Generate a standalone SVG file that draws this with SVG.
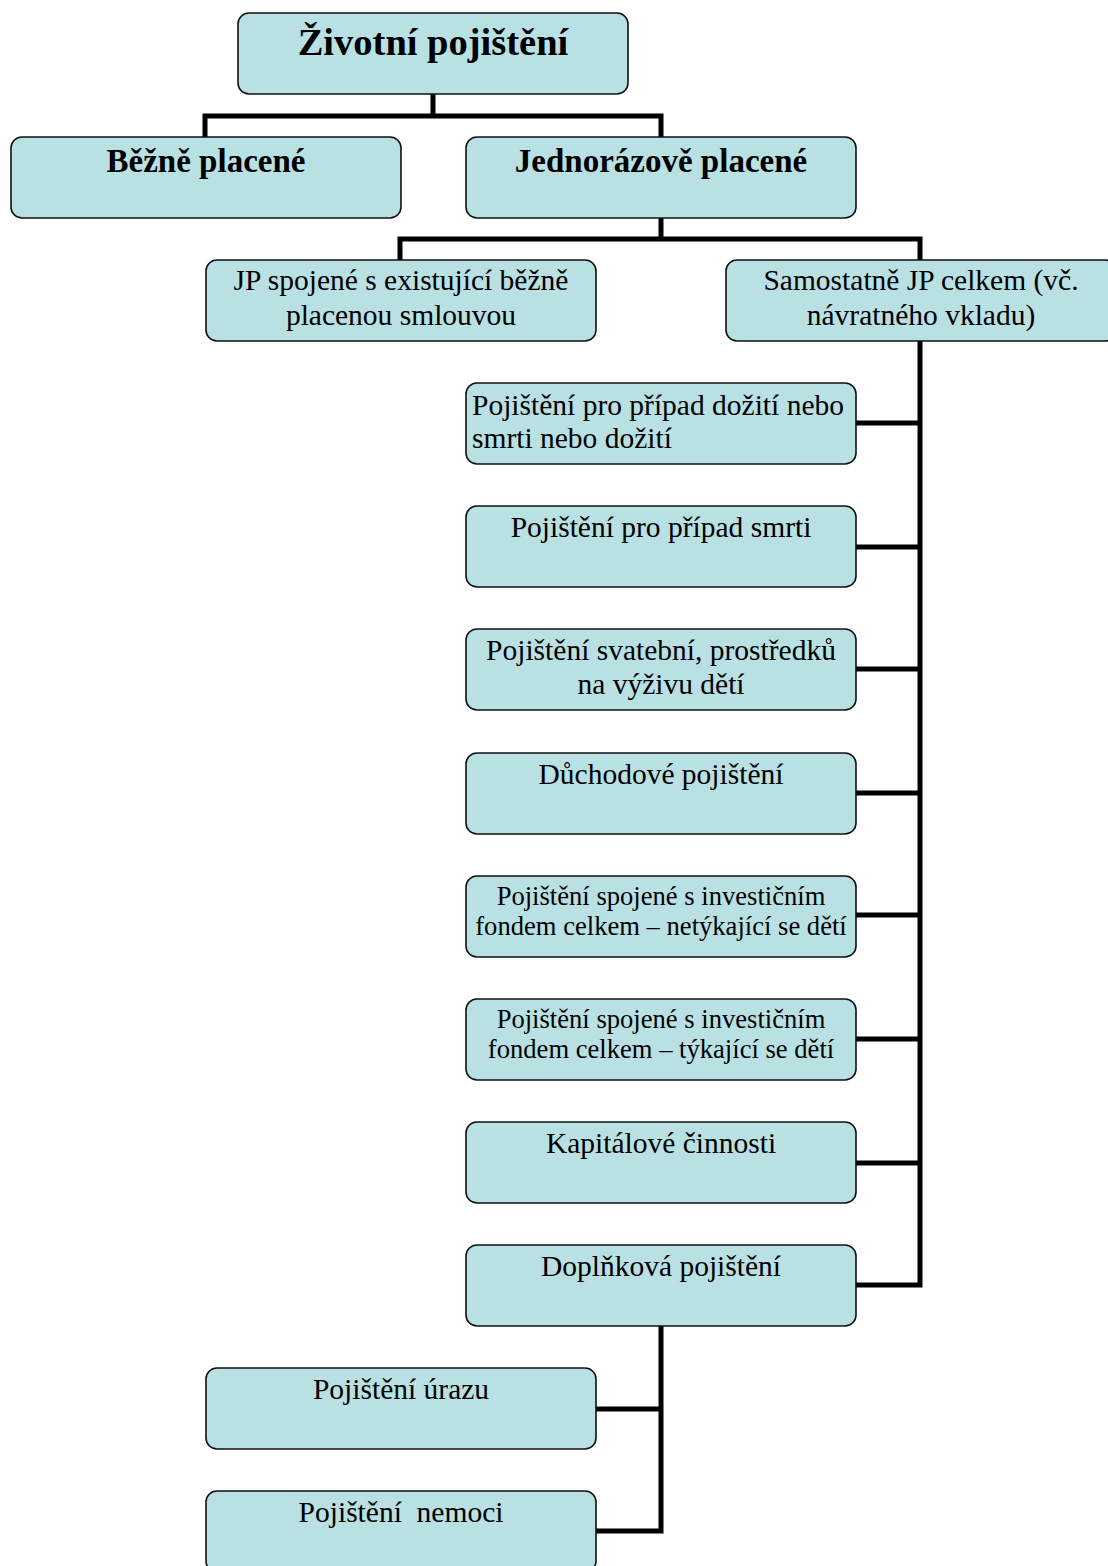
<svg xmlns="http://www.w3.org/2000/svg" width="1108" height="1566" viewBox="0 0 1108 1566">
<style>
.box{fill:#b9e0e3;stroke:#111;stroke-width:1.6}
.t{font-family:'Liberation Serif','Times New Roman','DejaVu Serif',serif;fill:#000;font-size:29.5px}
.b{font-weight:bold}
.c{text-anchor:middle}
.h1{font-size:38.5px}
.h2{font-size:33px}
.s{font-size:26.6px}
.con{fill:none;stroke:#000;stroke-width:5;stroke-linejoin:miter;stroke-linecap:square}
</style>
<g id="connectors">
<path class="con" d="M433,94 V116 M205,137 V116 H661 V137"/>
<path class="con" d="M661,218 V239 M400,260 V239 H920 V260"/>
<path class="con" d="M920,341 V1285 H856 M856,423 H920 M856,547 H920 M856,669 H920 M856,793 H920 M856,915 H920 M856,1039 H920 M856,1163 H920"/>
<path class="con" d="M661,1326 V1531 H596 M596,1409 H661"/>
</g>
<g id="n-root"><rect class="box" x="238" y="13" width="390" height="81" rx="11"/><text class="t b c h1" x="433" y="55">Životní pojištění</text></g>
<g id="n-bezne"><rect class="box" x="11" y="137" width="390" height="81" rx="11"/><text class="t b c h2" x="206" y="172">Běžně placené</text></g>
<g id="n-jednorazove"><rect class="box" x="466" y="137" width="390" height="81" rx="11"/><text class="t b c h2" x="661" y="172">Jednorázově placené</text></g>
<g id="n-jp-spojene"><rect class="box" x="206" y="260" width="390" height="81" rx="11"/><text class="t c" x="401" y="290">JP spojené s existující běžně</text><text class="t c" x="401" y="325">placenou smlouvou</text></g>
<g id="n-samostatne"><rect class="box" x="726" y="260" width="390" height="81" rx="11"/><text class="t c" x="921" y="290">Samostatně JP celkem (vč.</text><text class="t c" x="921" y="325">návratného vkladu)</text></g>
<g id="n-doziti"><rect class="box" x="466" y="383" width="390" height="81" rx="11"/><text class="t" x="472" y="415">Pojištění pro případ dožití nebo</text><text class="t" x="472" y="448">smrti nebo dožití</text></g>
<g id="n-smrti"><rect class="box" x="466" y="506" width="390" height="81" rx="11"/><text class="t c" x="661" y="537">Pojištění pro případ smrti</text></g>
<g id="n-svatebni"><rect class="box" x="466" y="629" width="390" height="81" rx="11"/><text class="t c" x="661" y="660">Pojištění svatební, prostředků</text><text class="t c" x="661" y="694">na výživu dětí</text></g>
<g id="n-duchodove"><rect class="box" x="466" y="753" width="390" height="81" rx="11"/><text class="t c" x="661" y="784">Důchodové pojištění</text></g>
<g id="n-invest-ne"><rect class="box" x="466" y="876" width="390" height="81" rx="11"/><text class="t c s" x="661" y="905">Pojištění spojené s investičním</text><text class="t c s" x="661" y="935">fondem celkem – netýkající se dětí</text></g>
<g id="n-invest-ano"><rect class="box" x="466" y="999" width="390" height="81" rx="11"/><text class="t c s" x="661" y="1028">Pojištění spojené s investičním</text><text class="t c s" x="661" y="1058">fondem celkem – týkající se dětí</text></g>
<g id="n-kapitalove"><rect class="box" x="466" y="1122" width="390" height="81" rx="11"/><text class="t c" x="661" y="1153">Kapitálové činnosti</text></g>
<g id="n-doplnkova"><rect class="box" x="466" y="1245" width="390" height="81" rx="11"/><text class="t c" x="661" y="1276">Doplňková pojištění</text></g>
<g id="n-urazu"><rect class="box" x="206" y="1368" width="390" height="81" rx="11"/><text class="t c" x="401" y="1399">Pojištění úrazu</text></g>
<g id="n-nemoci"><rect class="box" x="206" y="1491" width="390" height="81" rx="11"/><text class="t c" x="401" y="1522" xml:space="preserve">Pojištění  nemoci</text></g>
</svg>
